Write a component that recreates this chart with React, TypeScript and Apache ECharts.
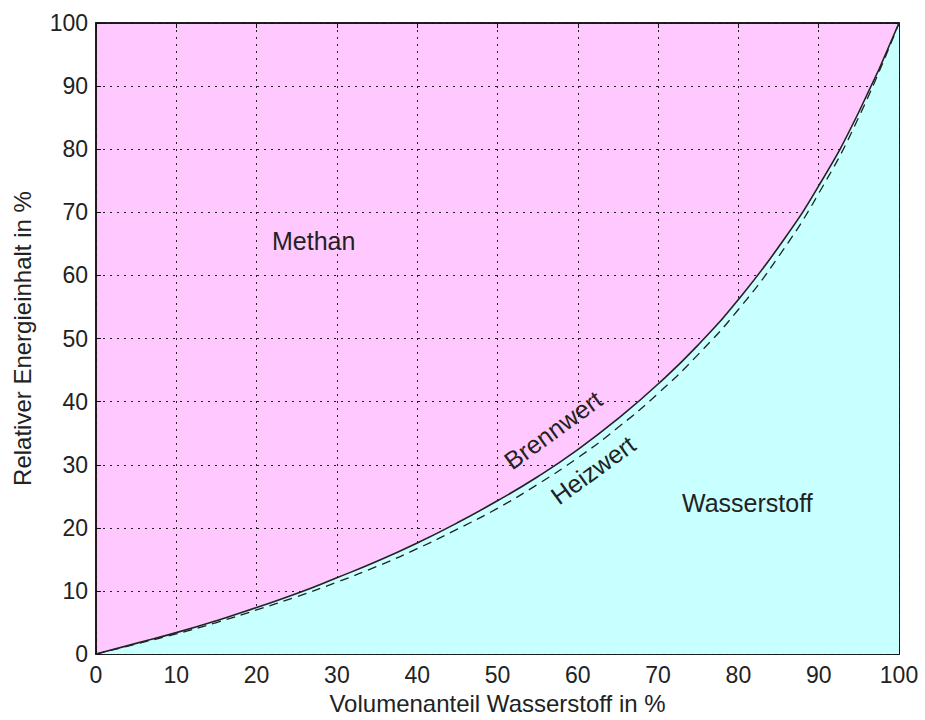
import React, { useEffect, useRef } from "react";
import * as echarts from "echarts";

const xValues = [0, 5, 10, 15, 20, 25, 30, 35, 40, 45, 50, 55, 60, 65, 70, 75, 80, 85, 90, 95, 100];
const brennwert = [0, 1.7, 3.4, 5.3, 7.4, 9.6, 12.1, 14.7, 17.6, 20.8, 24.3, 28.1, 32.4, 37.3, 42.8, 49.0, 56.2, 64.5, 74.2, 85.9, 100];
const heizwert = [0, 1.6, 3.2, 5.0, 7.0, 9.1, 11.4, 13.9, 16.7, 19.8, 23.1, 26.9, 31.1, 35.9, 41.3, 47.5, 54.6, 63.0, 73.0, 85.1, 100];
const xTitle = "Volumenanteil Wasserstoff in %";
const yTitle = "Relativer Energieinhalt in %";

const FONT = "Liberation Sans, Arial, sans-serif";

export default function App() {
  const ref = useRef<HTMLDivElement>(null);
  useEffect(() => {
    if (!ref.current) return;
    const chart = echarts.init(ref.current, null, { renderer: "svg" });
    const gridLine = { show: true, lineStyle: { color: "#222", width: 1, type: [2, 5] as any } };
    const axisCommon = {
      type: "value" as const,
      min: 0,
      max: 100,
      interval: 10,
      axisLine: { show: true, onZero: false, lineStyle: { color: "#111", width: 1.5 } },
      axisTick: { show: true, inside: true, length: 5, lineStyle: { color: "#111" } },
    };
    chart.setOption({
      animation: false,
      backgroundColor: "#ffffff",
      grid: {
        left: 96,
        right: 26,
        top: 23,
        bottom: 64,
        show: true,
        backgroundColor: "#ffc8fe",
        borderColor: "#111",
        borderWidth: 1.5,
      },
      xAxis: [
        {
          ...axisCommon,
          position: "bottom",
          name: xTitle,
          nameLocation: "middle",
          nameGap: 36,
          nameTextStyle: { fontFamily: FONT, fontSize: 24, color: "#222" },
          axisLabel: { fontFamily: FONT, fontSize: 23, color: "#222", margin: 9 },
          splitLine: gridLine,
        },
        {
          ...axisCommon,
          position: "top",
          axisLabel: { show: false },
          splitLine: { show: false },
        },
      ],
      yAxis: [
        {
          ...axisCommon,
          position: "left",
          name: yTitle,
          nameLocation: "middle",
          nameGap: 62,
          nameTextStyle: { fontFamily: FONT, fontSize: 24, color: "#222" },
          axisLabel: { fontFamily: FONT, fontSize: 23, color: "#222", margin: 8 },
          splitLine: gridLine,
        },
        {
          ...axisCommon,
          position: "right",
          axisLabel: { show: false },
          splitLine: { show: false },
        },
      ],
      series: [
        {
          name: "Brennwert",
          type: "line",
          data: xValues.map((x, i) => [x, brennwert[i]]),
          showSymbol: false,
          smooth: true,
          lineStyle: { color: "#222", width: 1.6 },
          areaStyle: { color: "#c8ffff", opacity: 1 },
          z: 3,
        },
        {
          name: "Heizwert",
          type: "line",
          data: xValues.map((x, i) => [x, heizwert[i]]),
          showSymbol: false,
          smooth: true,
          lineStyle: { color: "#222", width: 1.3, type: [9, 6] as any },
          z: 4,
        },
      ],
      graphic: [
        { type: "text", left: 272, top: 228, style: { text: "Methan", font: `25px ${FONT}`, fill: "#222" }, z: 10 },
        { type: "text", left: 682, top: 490, style: { text: "Wasserstoff", font: `25px ${FONT}`, fill: "#222" }, z: 10 },
        {
          type: "text",
          x: 553,
          y: 430,
          rotation: (36 * Math.PI) / 180,
          style: { text: "Brennwert", font: `25px ${FONT}`, fill: "#222", align: "center", verticalAlign: "middle" },
          z: 10,
        },
        {
          type: "text",
          x: 593,
          y: 470,
          rotation: (36 * Math.PI) / 180,
          style: { text: "Heizwert", font: `25px ${FONT}`, fill: "#222", align: "center", verticalAlign: "middle" },
          z: 10,
        },
      ],
    });
    return () => chart.dispose();
  }, []);
  return <div ref={ref} style={{ width: 925, height: 720, position: "absolute", left: 0, top: 0 }} />;
}
